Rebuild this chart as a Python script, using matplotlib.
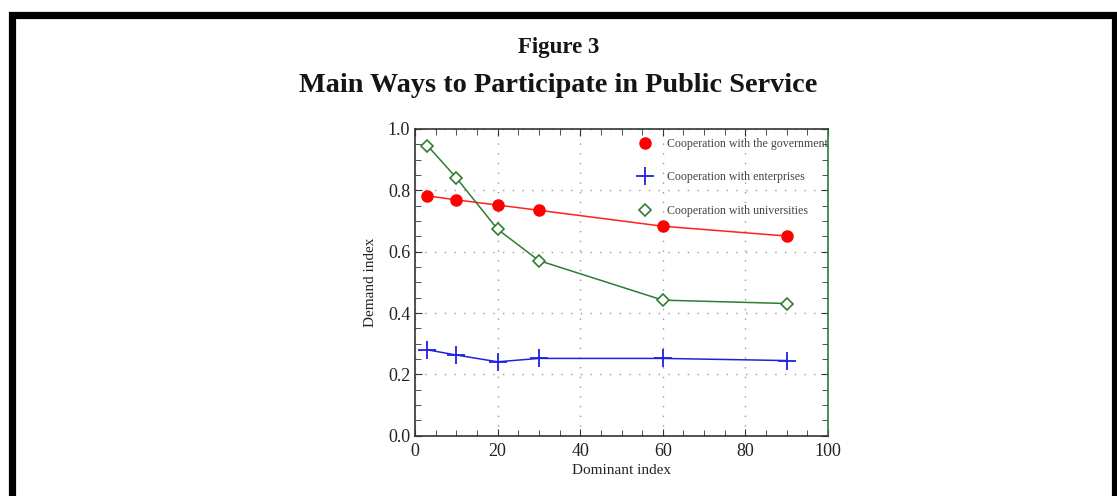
import matplotlib.pyplot as plt
from matplotlib.patches import Rectangle
from matplotlib.ticker import MultipleLocator

dominant = [3, 10, 20, 30, 60, 90]
gov = [0.782, 0.769, 0.752, 0.735, 0.683, 0.651]
ent = [0.280, 0.263, 0.241, 0.252, 0.252, 0.245]
uni = [0.946, 0.841, 0.673, 0.571, 0.442, 0.431]
labels = ["Cooperation with the government", "Cooperation with enterprises",
          "Cooperation with universities"]

serif = ["Liberation Serif", "DejaVu Serif"]
plt.rcParams['font.family'] = serif

fig = plt.figure(figsize=(11.17, 4.96), dpi=100)

# black frame round the figure
fig.patches.append(Rectangle((11.5 / 1117, -0.1), (1114.5 - 11.5) / 1117, 1.1 - 15 / 496,
                             transform=fig.transFigure, fill=False, edgecolor="black",
                             linewidth=5.2, zorder=10))

fig.text(0.5, 1 - 47 / 496, "Figure 3", ha="center", va="center", fontsize=16.5,
         color="#151515", fontweight="bold")
fig.text(0.5, 1 - 85 / 496, "Main Ways to Participate in Public Service", ha="center",
         va="center", fontsize=20.3, color="#151515", fontweight="bold")

ax = fig.add_axes([415 / 1117, (496 - 435.7) / 496, 413 / 1117, (435.7 - 129) / 496])

ax.plot(dominant, gov, color="#ff2020", lw=1.1, marker="o", ms=8, mfc="red", mec="red",
        label=labels[0])
ax.plot(dominant, ent, color="#2020e0", lw=1.1, marker="+", ms=13, mew=1.3,
        label=labels[1])
ax.plot(dominant, uni, color="#2e7d32", lw=1.1, marker="D", ms=6.5, mfc="white",
        mec="#2e7d32", mew=1.2, label=labels[2])

ax.set_xlim(0, 100)
ax.set_ylim(0, 1.0)
ax.xaxis.set_major_locator(MultipleLocator(20))
ax.xaxis.set_minor_locator(MultipleLocator(5))
ax.yaxis.set_major_locator(MultipleLocator(0.2))
ax.yaxis.set_minor_locator(MultipleLocator(0.05))
ax.yaxis.set_major_formatter(plt.FuncFormatter(lambda v, p: f"{v:.1f}"))
ax.tick_params(which="both", direction="in", top=True, right=True, colors="#333",
               labelcolor="#222", labelsize=13)
ax.tick_params(which="major", length=5)
ax.tick_params(which="minor", length=4)
ax.tick_params(axis="x", pad=5)
ax.grid(True, which="major", linestyle=(0, (1, 6)), color="#999", lw=1.0)

for s in ["left", "bottom", "top"]:
    ax.spines[s].set_color("#333")
ax.spines["right"].set_color("#2e7d32")
for s in ax.spines.values():
    s.set_linewidth(1.2)

ax.set_xlabel("Dominant index", fontsize=11, color="#222", labelpad=3)
ax.set_ylabel("Demand index", fontsize=11, color="#222", labelpad=8)

leg = ax.legend(loc="upper right", frameon=False, fontsize=8.6, labelspacing=1.8,
                handlelength=1.2, handletextpad=1.3, borderaxespad=0.35,
                bbox_to_anchor=(1.022, 1.0))
# legend shows markers only
for h in leg.legend_handles:
    h.set_linestyle("None")
for t in leg.get_texts():
    t.set_color("#444")

fig.savefig("out.png", dpi=100)
